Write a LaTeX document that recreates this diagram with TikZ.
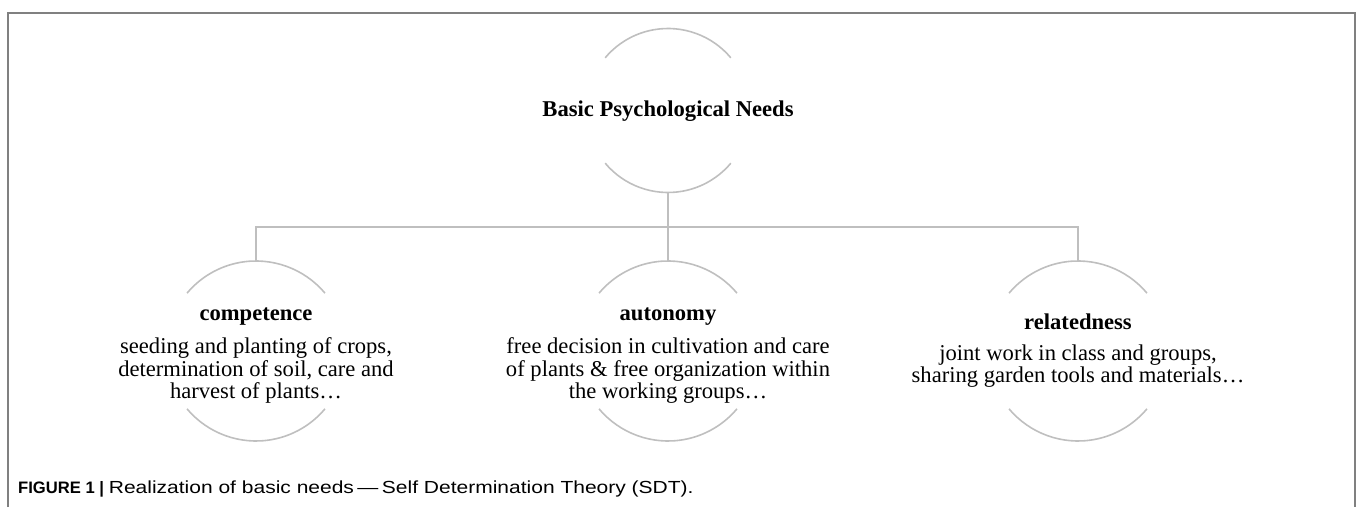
\documentclass[tikz,border=0pt]{standalone}
\usepackage{graphicx}
\usepackage{fontspec}
\setmainfont{Liberation Serif}
\newfontfamily\capfont{Liberation Sans}
\definecolor{framegray}{HTML}{808080}
\definecolor{arcgray}{HTML}{BFBFBF}
\begin{document}
\begin{tikzpicture}[x=1pt,y=1pt,
  hole/.style={circle,draw=none,inner sep=0pt,outer sep=0pt,minimum size=#1},
  arcline/.style={draw=arcgray,line width=1.6pt},
  link/.style={draw=arcgray,line width=1.6pt},
  txt/.style={align=center,inner sep=0pt,font=\fontsize{22.6}{22.5}\selectfont},
  ttl/.style={font=\fontsize{22.6}{22.5}\selectfont\bfseries}]
\useasboundingbox (0,0) rectangle (1358,507);
% frame (open at the bottom)
\draw[framegray,line width=2pt] (8,0) -- (8,494) -- (1355,494) -- (1355,0);
% circles (invisible shapes; arcs drawn below)
\node[hole=164pt] (top) at (668,396.5) {};
\node[hole=180pt] (comp) at (256,156) {};
\node[hole=180pt] (auto) at (668,156) {};
\node[hole=180pt] (rel) at (1078,156) {};
\foreach \n/\r in {top/82,comp/90,auto/90,rel/90}{
  \draw[arcline] (\n.40) arc[start angle=40,end angle=140,radius=\r];
  \draw[arcline] (\n.220) arc[start angle=220,end angle=320,radius=\r];
}
% texts
\node[ttl] (topT) at ([yshift=-1pt]top.center) {Basic Psychological Needs};
\node[txt] (compT) at ([yshift=-5pt]comp.center) {{\bfseries competence}\\[10.5pt]seeding and planting of crops,\\determination of soil, care and\\harvest of plants…};
\node[txt] (autoT) at ([yshift=-5pt]auto.center) {{\bfseries autonomy}\\[10.5pt]free decision in cultivation and care\\of plants \& free organization within\\the working groups…};
\node[txt] (relT) at (rel.center) {{\bfseries relatedness}\\[8pt]joint work in class and groups,\\sharing garden tools and materials…};
% connectors
\coordinate (hub) at (668,280);
\draw[link] (top.south) -- (hub);
\draw[link] (hub) -- (auto.north);
\draw[link] (comp.north) -- (comp.north |- hub) -- (rel.north |- hub) -- (rel.north);
% caption
\node[anchor=base west,inner sep=0pt,font=\capfont\fontsize{17.5}{20}\selectfont] (cap) at (18,14)
  {{\fontsize{16.6}{20}\selectfont\textbf{FIGURE 1 |}} \scalebox{1.2}[1]{Realization of basic needs\,—\,Self Determination Theory (SDT).}};
\end{tikzpicture}
\end{document}
